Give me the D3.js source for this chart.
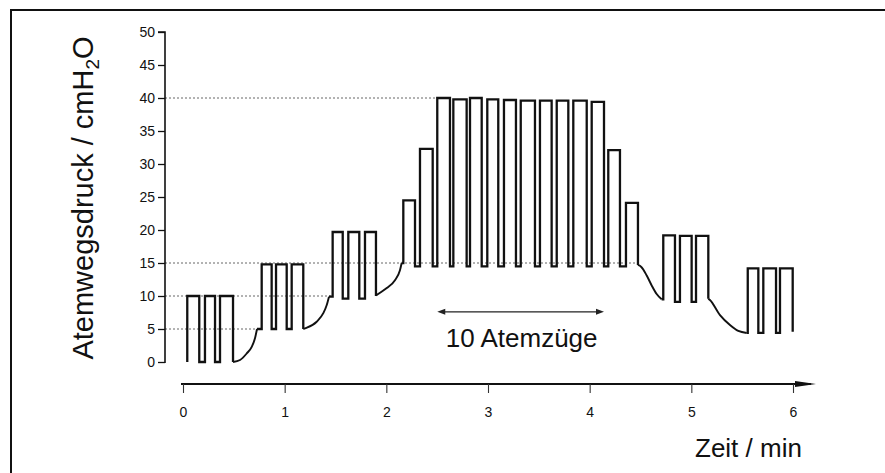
<!DOCTYPE html>
<html>
<head>
<meta charset="utf-8">
<script src="https://cdn.jsdelivr.net/npm/d3@7"></script>
<style>
  html, body { margin: 0; padding: 0; background: #fff; }
  svg { display: block; }
  text { font-family: "Liberation Sans", Arial, Helvetica, sans-serif; fill: #111; }
</style>
</head>
<body>
<svg id="chart" width="885" height="473"></svg>
<script>
// ---------------- data ----------------
const yTicks = [0, 5, 10, 15, 20, 25, 30, 35, 40, 45, 50];
const xTicks = [0, 1, 2, 3, 4, 5, 6];
const yLabel = "Atemwegsdruck / cmH";
const yLabelSub = "2";
const yLabelEnd = "O";
const xLabel = "Zeit / min";
const breathsLabel = "10 Atemzüge";

// each breath: inspiration start / end (min), peak pressure, pressure after expiration (cmH2O)
const breathStart = [0.042, 0.216, 0.364, 0.774, 0.915, 1.069, 1.472, 1.626, 1.790,
  2.167, 2.331, 2.501, 2.659, 2.823, 2.993, 3.157, 3.322, 3.511, 3.676, 3.839, 4.020,
  4.183, 4.357, 4.724, 4.888, 5.046, 5.555, 5.708, 5.872];
const breathEnd = [0.160, 0.315, 0.492, 0.872, 1.020, 1.183, 1.571, 1.734, 1.898,
  2.282, 2.456, 2.626, 2.790, 2.938, 3.101, 3.275, 3.462, 3.626, 3.790, 3.971, 4.141,
  4.298, 4.475, 4.839, 5.003, 5.167, 5.659, 5.833, 5.997];
const breathPeak = [10, 10, 10, 14.8, 14.8, 14.8, 19.7, 19.7, 19.7,
  24.5, 32.3, 40, 39.8, 40, 39.8, 39.7, 39.6, 39.6, 39.6, 39.6, 39.4,
  32.1, 24.1, 19.2, 19.1, 19.1, 14.2, 14.2, 14.2];
const breathFloor = [0, 0, 0, 5, 5, 5, 9.6, 9.6, 10,
  14.5, 14.5, 14.5, 14.5, 14.5, 14.5, 14.5, 14.5, 14.5, 14.5, 14.5, 14.5,
  14.5, 14.7, 9.1, 9.1, 9.6, 4.4, 4.4, 4.6];
const startLevel = 0;

// PEEP transitions (curved pressure changes), drawn after the given breath index
const transitionAfter = [2, 5, 8, 22, 25];
const transitionCurves = [
  [[0.492, 0], [0.561, 0.3], [0.627, 1.3], [0.676, 2.3], [0.708, 3.6], [0.728, 5.0]],
  [[1.183, 5.0], [1.200, 5.1], [1.315, 6.1], [1.380, 7.4], [1.413, 8.6], [1.436, 9.9]],
  [[1.898, 10.1], [2.004, 11.2], [2.085, 12.4], [2.134, 13.9], [2.151, 15.0]],
  [[4.475, 14.7], [4.508, 14.4], [4.561, 13.1], [4.610, 11.6], [4.659, 10.3], [4.708, 9.5]],
  [[5.167, 9.6], [5.183, 9.4], [5.282, 7.1], [5.380, 5.6], [5.462, 4.7], [5.545, 4.4]]
];

// dotted reference levels (cmH2O) and where they stop (min)
const refLevel = [40, 15, 10, 5];
const refUntil = [2.49, 4.49, 1.46, 0.73];

// ---------------- drawing ----------------
const svg = d3.select("#chart");

// frame (only left and top edges are visible in the crop)
svg.append("path")
  .attr("d", "M11,473V10H885")
  .attr("fill", "none").attr("stroke", "#111").attr("stroke-width", 2);

const x = d3.scaleLinear().domain([0, 6]).range([183, 793]);
const y = d3.scaleLinear().domain([0, 50]).range([362, 32]);
const axisX0 = 165;   // y-axis position (px)
const xAxisY = 384;   // x-axis position (px)

// reference dotted lines
svg.append("g").selectAll("line")
  .data(refLevel)
  .join("line")
  .attr("x1", axisX0)
  .attr("x2", (d, i) => x(refUntil[i]))
  .attr("y1", d => y(d)).attr("y2", d => y(d))
  .attr("stroke", "#666").attr("stroke-width", 1)
  .attr("stroke-dasharray", "2,2");

// y axis
const yAxis = d3.axisLeft(y).tickValues(yTicks).tickSize(7).tickPadding(3)
  .tickFormat(d3.format("d"));
const gy = svg.append("g").attr("transform", `translate(${axisX0},0)`).call(yAxis);
gy.select(".domain").attr("stroke", "#111").attr("stroke-width", 1.6)
  .attr("d", `M-7,${y(50)}H0V${y(0) + 1}`);
gy.selectAll(".tick line").attr("stroke", "#111").attr("stroke-width", 1.3);
gy.selectAll(".tick text").style("font-size", "14px")
  .style("font-family", '"Liberation Sans", Arial, sans-serif').attr("fill", "#111");

// x axis
const xAxis = d3.axisBottom(x).tickValues(xTicks).tickSize(9).tickPadding(14)
  .tickFormat(d3.format("d"));
const gx = svg.append("g").attr("transform", `translate(0,${xAxisY})`).call(xAxis);
gx.select(".domain").attr("stroke", "#111").attr("stroke-width", 2.2)
  .attr("d", `M${x(0) - 2},0H${x(6) + 18}`);
gx.selectAll(".tick line").attr("stroke", "#333").attr("stroke-width", 1.1);
gx.selectAll(".tick text").style("font-size", "14px")
  .style("font-family", '"Liberation Sans", Arial, sans-serif').attr("fill", "#111");
// arrow head at the end of the time axis
gx.append("path")
  .attr("d", `M${x(6) + 2},-3L${x(6) + 23},0L${x(6) + 2},3Z`)
  .attr("fill", "#111");

// waveform
const segments = [];
const curves = [];
let cur = [[breathStart[0], startLevel]];
let level = startLevel;
breathStart.forEach((s, i) => {
  cur.push([s, level], [s, breathPeak[i]], [breathEnd[i], breathPeak[i]], [breathEnd[i], breathFloor[i]]);
  level = breathFloor[i];
  const k = transitionAfter.indexOf(i);
  if (k >= 0) {
    segments.push(cur);
    const c = transitionCurves[k];
    curves.push(c);
    const last = c[c.length - 1];
    cur = [last];
    level = last[1];
  }
});
segments.push(cur);

const stepLine = d3.line().x(d => x(d[0])).y(d => y(d[1]));
const curveLine = d3.line().x(d => x(d[0])).y(d => y(d[1])).curve(d3.curveMonotoneX);

const wave = svg.append("g")
  .attr("fill", "none").attr("stroke", "#111")
  .attr("stroke-width", 2.3).attr("stroke-linejoin", "miter");
wave.selectAll("path.step").data(segments).join("path")
  .attr("class", "step").attr("d", stepLine);
wave.selectAll("path.curve").data(curves).join("path")
  .attr("class", "curve").attr("d", curveLine).attr("stroke-width", 1.9);

// "10 Atemzüge" double arrow spanning the ten 40 cmH2O breaths
const arrowY = y(7.6);
const ax1 = x(breathStart[11]), ax2 = x(breathEnd[20]);
svg.append("line")
  .attr("x1", ax1 + 4).attr("x2", ax2 - 4)
  .attr("y1", arrowY).attr("y2", arrowY)
  .attr("stroke", "#222").attr("stroke-width", 1.4);
svg.append("path")
  .attr("d", `M${ax1},${arrowY}l8,-3v6Z M${ax2},${arrowY}l-8,-3v6Z`)
  .attr("fill", "#222");
svg.append("text")
  .attr("x", (ax1 + ax2) / 2 + 1).attr("y", 347)
  .attr("text-anchor", "middle")
  .style("font-size", "26px")
  .text(breathsLabel);

// axis titles
const yt = svg.append("text")
  .attr("transform", `translate(93,198) rotate(-90)`)
  .attr("text-anchor", "middle")
  .style("font-size", "29px");
yt.append("tspan").text(yLabel);
yt.append("tspan").attr("dy", 6).style("font-size", "19px").text(yLabelSub);
yt.append("tspan").attr("dy", -6).text(yLabelEnd);

svg.append("text")
  .attr("x", 695).attr("y", 457)
  .style("font-size", "26px")
  .text(xLabel);
</script>
</body>
</html>
